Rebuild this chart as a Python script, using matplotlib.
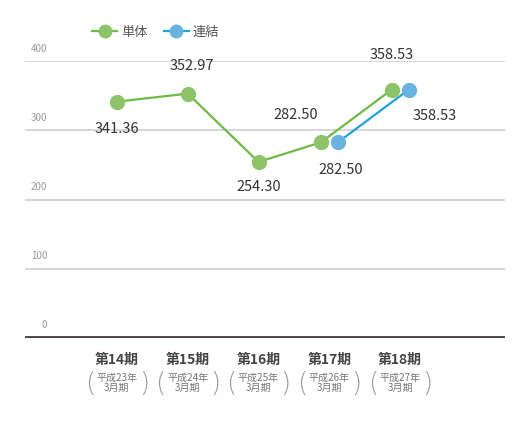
import matplotlib.pyplot as plt
import numpy as np

plt.rcParams['font.family'] = ['Noto Sans CJK JP', 'DejaVu Sans']

# Données
periodes = ["第14期", "第15期", "第16期", "第17期", "第18期"]
sous_labels = ["平成23年\n3月期", "平成24年\n3月期", "平成25年\n3月期", "平成26年\n3月期", "平成27年\n3月期"]
tanto = [341.36, 352.97, 254.30, 282.50, 358.53]
renketsu = [np.nan, np.nan, np.nan, 282.50, 358.53]
yticks = [0, 100, 200, 300, 400]

VERT_L = '#6dba45'
VERT_M = '#8dc46a'
BLEU_L = '#1ea2dc'
BLEU_M = '#6ab3e0'

fig = plt.figure(figsize=(5.13, 4.33), dpi=100)
ax = fig.add_axes([0.0487, 0.2194, 0.9353, 0.6396])

x = np.arange(len(periodes), dtype=float)
tanto_arr = np.array(tanto)
ren_arr = np.array(renketsu)
both = ~np.isnan(ren_arr)
dodge = 0.12
x_tanto = x - np.where(both, dodge, 0)
x_ren = x + np.where(both, dodge, 0)

ax.plot(x_tanto, tanto_arr, color=VERT_L, lw=1.6, marker='o', ms=10,
        mfc=VERT_M, mec=VERT_M, zorder=3)
ax.plot(x_ren, ren_arr, color=BLEU_L, lw=1.6, marker='o', ms=10,
        mfc=BLEU_M, mec=BLEU_M, zorder=3)

# Étiquettes des valeurs (décalages en points)
off_t = [(0, -20), (3, 20), (0, -18), (-18, 20), (0, 25)]
for xi, v, (dx, dy) in zip(x_tanto, tanto_arr, off_t):
    ax.annotate(f"{v:.2f}", (xi, v), xytext=(dx, dy), textcoords='offset points',
                ha='center', va='center', fontsize=10.5, color='#333333')
off_r = [(2, -20), (19, -19)]
for xi, v, (dx, dy) in zip(x_ren[both], ren_arr[both], off_r):
    ax.annotate(f"{v:.2f}", (xi, v), xytext=(dx, dy), textcoords='offset points',
                ha='center', va='center', fontsize=10.5, color='#333333')

ax.set_ylim(0, 400)
ax.set_xlim(-1.30, 5.48)
for yv in yticks[1:]:
    ax.axhline(yv, color='#cfcfcf', lw=1.2, zorder=1)
ax.axhline(0, color='#4a4442', lw=3.5, zorder=2)
for yv in yticks:
    ax.annotate(str(yv), (0, yv), xycoords=('axes fraction', 'data'),
                xytext=(16, 9), textcoords='offset points', ha='right', va='center',
                fontsize=7, color='#999999')

ax.set_xticks([])
ax.set_yticks([])
for s in ax.spines.values():
    s.set_visible(False)

# Libellés des catégories
for xi, p, sl in zip(x, periodes, sous_labels):
    ax.annotate(p, (xi, 0), xytext=(0, -15.5), textcoords='offset points',
                ha='center', va='center', fontsize=10, fontweight='bold', color='#444444')
    ax.annotate(sl, (xi, 0), xytext=(0, -32.5), textcoords='offset points',
                ha='center', va='center', fontsize=7.2, color='#777777', linespacing=1.0)
    for dx, ch in ((-19.5, '('), (19.5, ')')):
        ax.annotate(ch, (xi, 0), xytext=(dx, -33), textcoords='offset points',
                    ha='center', va='center', fontsize=19, color='#999999',
                    family='DejaVu Sans', fontweight='light')

# Légende
ax.plot([], [], color=VERT_L, lw=1.6, marker='o', ms=9, mfc=VERT_M, mec=VERT_M, label='単体')
ax.plot([], [], color=BLEU_L, lw=1.6, marker='o', ms=9, mfc=BLEU_M, mec=BLEU_M, label='連結')
handles = ax.get_lines()[-2:]
fig.legend(handles=handles, loc='center left', bbox_to_anchor=(0.157, 0.926),
           ncol=2, frameon=False, fontsize=9.5, handlelength=1.9, handletextpad=0.3,
           columnspacing=1.2, labelcolor='#555555')

fig.savefig("out.png", dpi=100)
